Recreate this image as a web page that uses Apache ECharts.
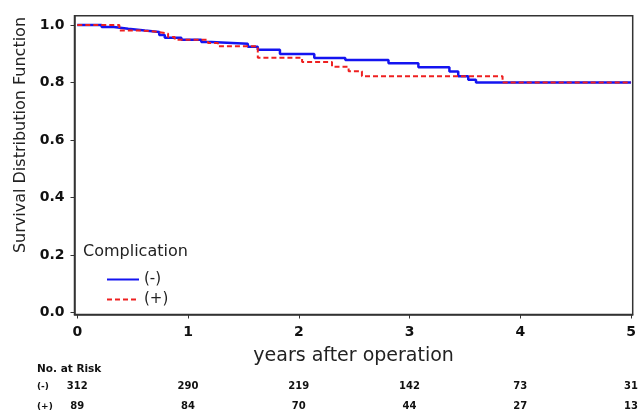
<!DOCTYPE html>
<html>
<head>
<meta charset="utf-8">
<script src="https://cdn.jsdelivr.net/npm/echarts@6/dist/echarts.min.js"></script>
<style>html,body{margin:0;padding:0;background:#fff}#c{width:641px;height:416px}</style>
</head>
<body>
<div id="c"></div>
<script>
// Kaplan-Meier step data (time in years, survival)
const minusTimes = [0, 0.22, 0.33, 0.46, 0.61, 0.74, 0.79, 0.94, 1.12, 1.21, 1.54, 1.63, 1.83, 2.14, 2.42, 2.81, 3.08, 3.36, 3.44, 3.53, 3.60, 5.0];
const minusSurv  = [1.0, 0.993, 0.987, 0.981, 0.976, 0.965, 0.956, 0.949, 0.941, 0.935, 0.924, 0.914, 0.899, 0.885, 0.878, 0.867, 0.853, 0.838, 0.822, 0.810, 0.800, 0.800];
const plusTimes  = [0, 0.38, 0.58, 0.73, 0.82, 0.88, 1.18, 1.27, 1.63, 2.03, 2.30, 2.45, 2.57, 3.84, 5.0];
const plusSurv   = [1.0, 0.981, 0.976, 0.970, 0.958, 0.949, 0.937, 0.926, 0.886, 0.871, 0.855, 0.839, 0.822, 0.800, 0.800];
const xTicks = [0, 1, 2, 3, 4, 5];
const yTicks = [0, 0.2, 0.4, 0.6, 0.8, 1.0];
const riskMinus = [312, 290, 219, 142, 73, 31];
const riskPlus  = [89, 84, 70, 44, 27, 13];
const seriesNames = ['(-)', '(+)'];

const FONT = 'DejaVu Sans';
const chart = echarts.init(document.getElementById('c'), null, {renderer: 'canvas'});
const pairs = (t, s) => t.map((v, i) => [v, s[i]]);

const riskAxis = (counts, offset) => ({
  type: 'value', gridIndex: 0, position: 'bottom', offset: offset,
  min: -0.025, max: 5.015,
  axisLine: {show: false, onZero: false}, axisTick: {show: false}, splitLine: {show: false},
  axisLabel: {
    customValues: xTicks, margin: 7,
    fontFamily: FONT, fontSize: 10, fontWeight: 'bold', color: '#111',
    formatter: v => { const i = xTicks.indexOf(Math.round(v)); return i >= 0 ? String(counts[i]) : ''; }
  }
});

chart.setOption({
  animation: false,
  backgroundColor: '#fff',
  grid: {left: 74.5, right: 5.3, top: 15.7, bottom: 101.5, show: true, borderColor: '#333', borderWidth: 1.5, containLabel: false},
  legend: {
    orient: 'vertical', left: 106, top: 272, padding: 0, itemGap: 5,
    itemWidth: 32, itemHeight: 14,
    itemStyle: {opacity: 0},
    textStyle: {fontFamily: FONT, fontSize: 15, color: '#222'},
    data: seriesNames
  },
  xAxis: [
    {
      type: 'value', min: -0.025, max: 5.015,
      name: 'years after operation', nameLocation: 'middle', nameGap: 32,
      nameTextStyle: {fontFamily: FONT, fontSize: 19, color: '#222'},
      axisLine: {show: true, onZero: false, lineStyle: {color: '#333', width: 1.5}},
      axisTick: {show: true, customValues: xTicks, length: 4, lineStyle: {color: '#333'}},
      axisLabel: {customValues: xTicks, margin: 11, fontFamily: FONT, fontSize: 14, fontWeight: 'bold', color: '#111'},
      splitLine: {show: false}
    },
    riskAxis(riskMinus, 60),
    riskAxis(riskPlus, 80)
  ],
  yAxis: {
    type: 'value', min: -0.0063, max: 1.0323,
    axisLine: {show: true, onZero: false, lineStyle: {color: '#333', width: 1.5}},
    axisTick: {show: true, customValues: yTicks, length: 4, lineStyle: {color: '#333'}},
    axisLabel: {customValues: yTicks, margin: 10, fontFamily: FONT, fontSize: 14, fontWeight: 'bold', color: '#111',
      formatter: v => v.toFixed(1)},
    splitLine: {show: false}
  },
  graphic: [
    {type: 'text', x: 21, y: 135, rotation: Math.PI / 2,
      style: {text: 'Survival Distribution Function', fontFamily: FONT, fontSize: 16, fill: '#222', align: 'center', verticalAlign: 'middle'}},
    {type: 'text', x: 83, y: 252,
      style: {text: 'Complication', fontFamily: FONT, fontSize: 16, fill: '#222', align: 'left', verticalAlign: 'middle'}},
    {type: 'text', x: 37, y: 369,
      style: {text: 'No. at Risk', fontFamily: FONT, fontSize: 10.5, fontWeight: 'bold', fill: '#111', align: 'left', verticalAlign: 'middle'}},
    {type: 'text', x: 37, y: 387,
      style: {text: seriesNames[0], fontFamily: FONT, fontSize: 9, fontWeight: 'bold', fill: '#111', align: 'left', verticalAlign: 'middle'}},
    {type: 'text', x: 37, y: 407,
      style: {text: seriesNames[1], fontFamily: FONT, fontSize: 9, fontWeight: 'bold', fill: '#111', align: 'left', verticalAlign: 'middle'}}
  ],
  series: [
    {name: seriesNames[0], type: 'line', step: 'end', symbol: 'none', xAxisIndex: 0, yAxisIndex: 0,
      data: pairs(minusTimes, minusSurv), lineStyle: {color: '#1414f0', width: 2.5}, itemStyle: {color: '#1414f0'}},
    {name: seriesNames[1], type: 'line', step: 'end', symbol: 'none', xAxisIndex: 0, yAxisIndex: 0,
      data: pairs(plusTimes, plusSurv), lineStyle: {color: '#ee2020', width: 2, type: [5, 3]}, itemStyle: {color: '#ee2020'}}
  ]
});
</script>
</body>
</html>
